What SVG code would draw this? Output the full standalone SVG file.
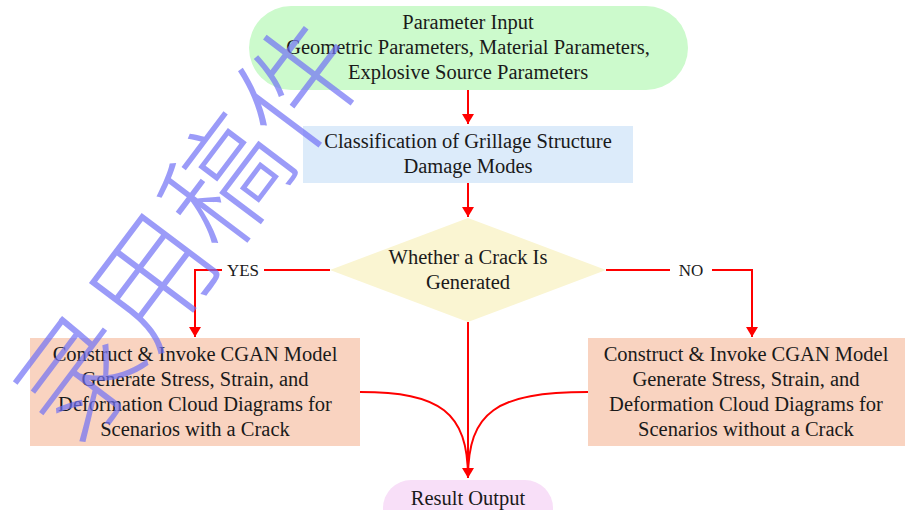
<svg xmlns="http://www.w3.org/2000/svg" width="905" height="510" viewBox="0 0 905 510">
<defs>
<marker id="ah" markerWidth="10" markerHeight="12" refX="10" refY="6" orient="auto" markerUnits="userSpaceOnUse">
<path d="M0,0 L10,6 L0,12 Z" fill="#ff0000"/>
</marker>
<style>
text.t{font-family:'Liberation Serif','Times New Roman',Tinos,'DejaVu Serif',serif;font-size:20.5px;fill:#1a1a1a;text-anchor:middle;dominant-baseline:central}
text.lbl{font-family:'Liberation Serif','Times New Roman',Tinos,'DejaVu Serif',serif;font-size:17px;fill:#1a1a1a;text-anchor:middle;dominant-baseline:central}
.c{fill:none;stroke:#ff0000;stroke-width:2}
text.wm{font-family:'Noto Sans CJK SC',sans-serif;font-size:122px;font-weight:300;fill:#7070f5;fill-opacity:0.7}
</style>
</defs>
<rect width="905" height="510" fill="#ffffff"/>
<g id="connectors">
<path class="c" d="M468,90 L468,124" marker-end="url(#ah)"/>
<path class="c" d="M468,183 L468,217" marker-end="url(#ah)"/>
<path class="c" d="M330,270 L264,270 M222,270 L195,270 L195,337" marker-end="url(#ah)"/>
<path class="c" d="M606,270 L670,270 M712,270 L752,270 L752,337" marker-end="url(#ah)"/>
<path class="c" d="M468,322 L468,478" marker-end="url(#ah)"/>
<path class="c" d="M360,392 C440,392 468,412 468,478"/>
<path class="c" d="M588,392 C496,392 468,412 468,478"/>
<text class="lbl" x="243" y="270">YES</text>
<text class="lbl" x="691" y="270">NO</text>
</g>
<g id="input">
<rect x="249" y="6" width="439" height="84" rx="42" fill="#ccfacc"/>
<text class="t" x="468" y="22">Parameter Input</text>
<text class="t" x="468" y="47">Geometric Parameters, Material Parameters,</text>
<text class="t" x="468" y="72">Explosive Source Parameters</text>
</g>
<g id="classification">
<rect x="303" y="126" width="330" height="57" fill="#dcebfa"/>
<text class="t" x="468" y="141">Classification of Grillage Structure</text>
<text class="t" x="468" y="166">Damage Modes</text>
</g>
<g id="decision">
<polygon points="468,218 606,270 468,322 330,270" fill="#faf5d2"/>
<text class="t" x="468" y="257">Whether a Crack Is</text>
<text class="t" x="468" y="282">Generated</text>
</g>
<g id="withcrack">
<rect x="30" y="338" width="330" height="108" fill="#f9d3c0"/>
<text class="t" x="195" y="354">Construct &amp; Invoke CGAN Model</text>
<text class="t" x="195" y="379">Generate Stress, Strain, and</text>
<text class="t" x="195" y="404">Deformation Cloud Diagrams for</text>
<text class="t" x="195" y="429">Scenarios with a Crack</text>
</g>
<g id="withoutcrack">
<rect x="588" y="338" width="317" height="108" fill="#f9d3c0"/>
<text class="t" x="746" y="354">Construct &amp; Invoke CGAN Model</text>
<text class="t" x="746" y="379">Generate Stress, Strain, and</text>
<text class="t" x="746" y="404">Deformation Cloud Diagrams for</text>
<text class="t" x="746" y="429">Scenarios without a Crack</text>
</g>
<g id="output">
<rect x="383" y="480" width="170" height="56" rx="28" fill="#f8dff8"/>
<text class="t" x="468" y="498">Result Output</text>
</g>
<g id="watermark">
<text class="wm" transform="translate(78,452) rotate(-53)">录用稿件</text>
</g>
</svg>
